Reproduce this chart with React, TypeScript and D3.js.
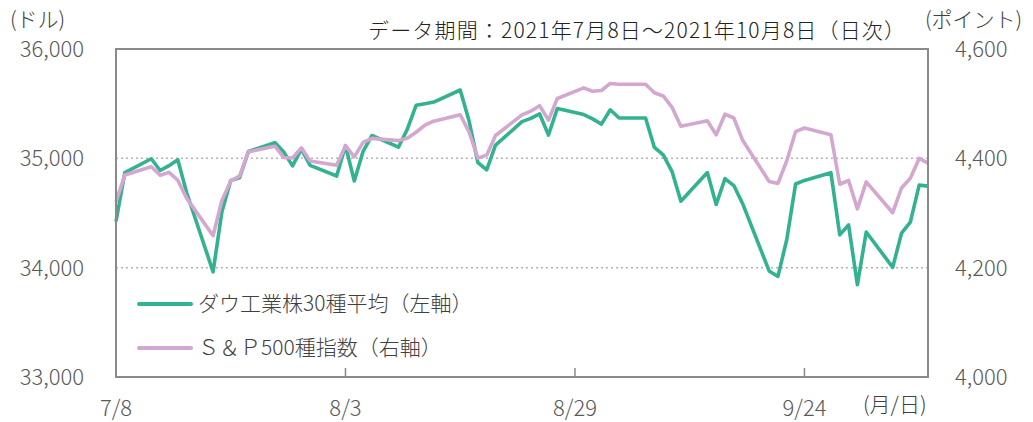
import React from 'react';
import * as d3 from 'd3';

const dates = [
  '2021-07-08','2021-07-09','2021-07-12','2021-07-13','2021-07-14','2021-07-15','2021-07-16',
  '2021-07-19','2021-07-20','2021-07-21','2021-07-22','2021-07-23','2021-07-26','2021-07-27',
  '2021-07-28','2021-07-29','2021-07-30',
  '2021-08-02','2021-08-03','2021-08-04','2021-08-05','2021-08-06','2021-08-09','2021-08-10',
  '2021-08-11','2021-08-12','2021-08-13','2021-08-16','2021-08-17','2021-08-18','2021-08-19',
  '2021-08-20','2021-08-23','2021-08-24','2021-08-25','2021-08-26','2021-08-27','2021-08-30',
  '2021-08-31',
  '2021-09-01','2021-09-02','2021-09-03','2021-09-06','2021-09-07','2021-09-08','2021-09-09',
  '2021-09-10','2021-09-13','2021-09-14','2021-09-15','2021-09-16','2021-09-17','2021-09-20',
  '2021-09-21','2021-09-22','2021-09-23','2021-09-24','2021-09-27','2021-09-28','2021-09-29',
  '2021-09-30',
  '2021-10-01','2021-10-04','2021-10-05','2021-10-06','2021-10-07','2021-10-08',
];

const dow = [
  34422, 34870, 34996, 34889, 34933, 34987, 34688, 33962, 34512, 34798, 34823, 35062, 35144, 35059,
  34931, 35085, 34935,
  34838, 35116, 34793, 35064, 35209, 35102, 35265, 35485, 35500, 35515, 35625, 35343, 34961, 34894,
  35120, 35336, 35366, 35406, 35213, 35456, 35400, 35361,
  35313, 35444, 35369, 35369, 35100, 35031, 34879, 34608, 34870, 34578, 34814, 34751, 34585, 33970,
  33920, 34258, 34765, 34798, 34869, 34300, 34391, 33844,
  34326, 34003, 34315, 34417, 34755, 34746,
];

const sp500 = [
  4320.8, 4369.6, 4384.6, 4369.2, 4374.3, 4360.0, 4327.2, 4258.5, 4323.1, 4358.7, 4367.5, 4411.8,
  4422.3, 4401.5, 4400.6, 4419.2, 4395.3,
  4387.2, 4423.2, 4402.7, 4429.1, 4436.5, 4432.4, 4436.8, 4447.7, 4460.8, 4468.0, 4479.7, 4448.1,
  4400.3, 4405.8, 4441.7, 4479.5, 4486.2, 4496.2, 4469.9, 4509.4, 4528.8, 4522.7,
  4524.1, 4537.0, 4535.4, 4535.4, 4520.0, 4514.1, 4493.3, 4458.6, 4468.7, 4443.1, 4480.7, 4473.8,
  4433.0, 4357.7, 4354.2, 4395.6, 4449.0, 4455.5, 4443.1, 4352.6, 4359.5, 4307.5,
  4357.0, 4300.5, 4345.7, 4363.6, 4399.8, 4391.3,
];

const leftTicks = [33000, 34000, 35000, 36000];
const rightTicks = [4000, 4200, 4400, 4600];
const gridValues = [34000, 35000];
const xTickDates = ['2021-07-08', '2021-08-03', '2021-08-29', '2021-09-24'];
const xTickLabels = ['7/8', '8/3', '8/29', '9/24'];
const seriesNames = ['ダウ工業株30種平均（左軸）', 'Ｓ＆Ｐ500種指数（右軸）'];
const title = 'データ期間：2021年7月8日～2021年10月8日（日次）';

const FONT = "'Noto Sans CJK JP', 'Noto Sans', sans-serif";
const GREEN = '#33b291';
const PURPLE = '#d3a7cf';

export default function App() {
  const W = 1033, H = 422;
  const L = 116, R = 928, T = 49, B = 377;
  const parse = d3.utcParse('%Y-%m-%d');
  const x = d3.scaleUtc()
    .domain([parse('2021-07-08') as Date, parse('2021-10-08') as Date])
    .range([L, R]);
  const yL = d3.scaleLinear().domain([33000, 36000]).range([B, T]);
  const yR = d3.scaleLinear().domain([4000, 4600]).range([B, T]);

  const parsed = dates.map((d) => parse(d) as Date);
  const lineL = d3.line<number>().x((_, i) => x(parsed[i])).y((v) => yL(v));
  const lineR = d3.line<number>().x((_, i) => x(parsed[i])).y((v) => yR(v));

  const fmt = d3.format(',');

  return (
    <svg width={W} height={H} style={{ position: 'absolute', left: 0, top: 0 }} fontFamily={FONT} fontWeight={300}>
      <rect x={0} y={0} width={W} height={H} fill="#fff" />
      {gridValues.map((v) => (
        <line key={v} x1={L} x2={R} y1={yL(v)} y2={yL(v)} stroke="#b3b3b3" strokeWidth={1.5} strokeDasharray="2,3" />
      ))}
      <path d={lineL(dow) || ''} fill="none" stroke={GREEN} strokeWidth={3.6} strokeLinejoin="round" />
      <path d={lineR(sp500) || ''} fill="none" stroke={PURPLE} strokeWidth={3.6} strokeLinejoin="round" />
      <rect x={L} y={T} width={R - L} height={B - T} fill="none" stroke="#8a8a8a" strokeWidth={2} />
      {xTickDates.slice(1).map((d) => (
        <line key={d} x1={x(parse(d) as Date)} x2={x(parse(d) as Date)} y1={B} y2={B - 9} stroke="#8a8a8a" strokeWidth={1.5} />
      ))}
      {leftTicks.map((v) => (
        <text key={v} x={84} y={yL(v) + 8} textAnchor="end" fontSize={22} fill="#595959">{fmt(v)}</text>
      ))}
      {rightTicks.map((v) => (
        <text key={v} x={955} y={yR(v) + 8} textAnchor="start" fontSize={22} fill="#595959">{fmt(v)}</text>
      ))}
      {xTickDates.map((d, i) => (
        <text key={d} x={x(parse(d) as Date)} y={416} textAnchor="middle" fontSize={22} fill="#595959">{xTickLabels[i]}</text>
      ))}
      <text x={863} y={412} fontSize={21} fill="#404040">(月/日)</text>
      <text x={10} y={27} fontSize={21} fill="#404040">(ドル)</text>
      <text x={925} y={27} fontSize={21} fill="#404040">(ポイント)</text>
      <text x={368} y={38} fontSize={21} fill="#222" textLength={537} lengthAdjust="spacing">{title}</text>
      <line x1={139} x2={191} y1={304} y2={304} stroke={GREEN} strokeWidth={4} strokeLinecap="round" />
      <text x={198} y={311} fontSize={21} fill="#404040">{seriesNames[0]}</text>
      <line x1={139} x2={191} y1={348} y2={348} stroke={PURPLE} strokeWidth={4} strokeLinecap="round" />
      <text x={198} y={355} fontSize={21} fill="#404040">{seriesNames[1]}</text>
    </svg>
  );
}
